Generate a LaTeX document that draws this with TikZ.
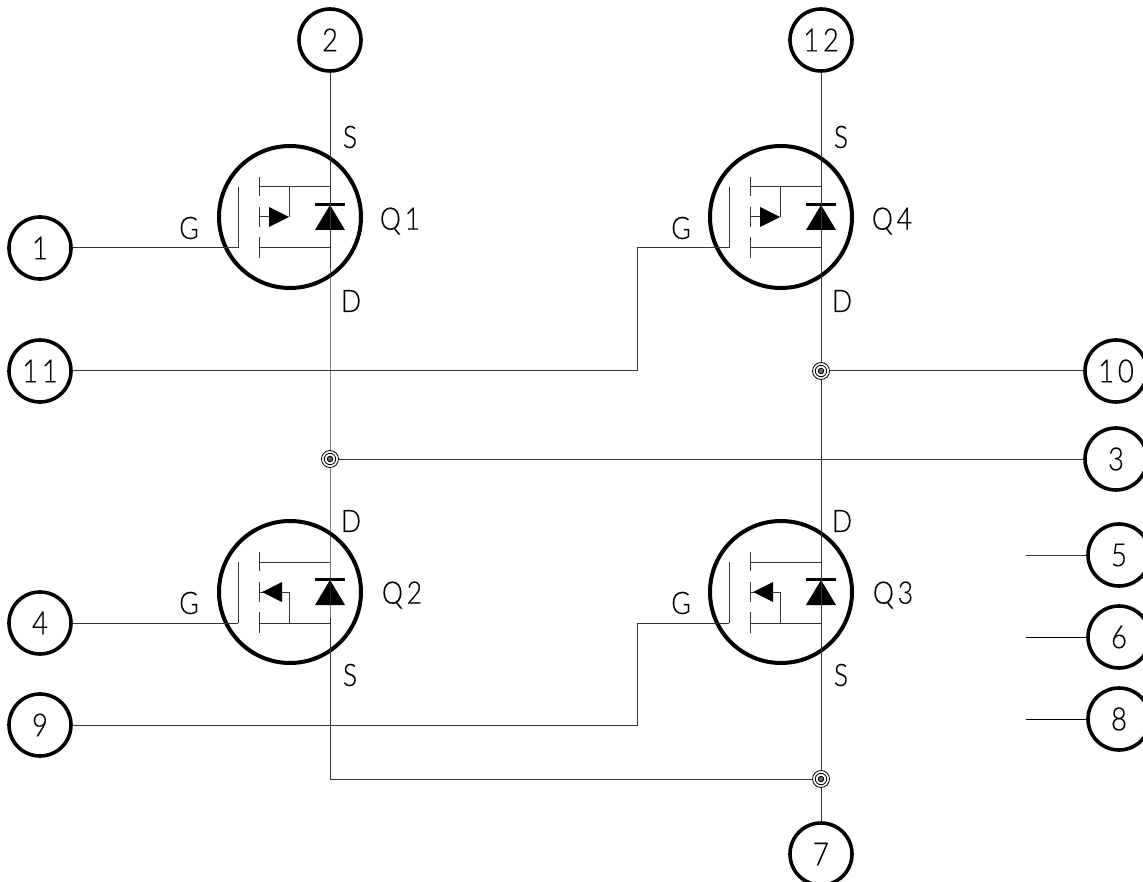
\documentclass[tikz,border=0pt]{standalone}
\usepackage{fontspec}
\setmainfont{Lato Light}[LetterSpace=12,FakeStretch=0.86,FakeBold=0.25]
\tikzset{
  x=1pt,y=-1pt,
  wire/.style={line width=1pt,black!80!white},
  thin wire/.style={line width=1pt,black},
  pinc/.style={circle,draw=black,line width=3.6pt,minimum size=62pt,inner sep=0pt,font=\fontsize{32}{32}\selectfont,text=black},
  bigring/.style={circle,draw=black,line width=4pt,minimum size=142pt,inner sep=0pt},
  lbl/.style={font=\fontsize{31}{31}\selectfont,text=black,inner sep=0pt},
  junc/.pic={
    \draw[line width=.8pt,fill=white] (0,0) circle (8.5);
    \draw[line width=.8pt] (0,0) circle (5.7);
    \draw[line width=.8pt,fill=black!60] (0,0) circle (2.8);
  },
}
% #1 name, #2 dx, #3 dy
\newcommand{\fetup}[3]{%
\begin{scope}[shift={(#2,#3)}]
  \node[bigring] (#1) at (290,217) {};
  \coordinate (#1g) at (238,248);
  \draw[wire] (238,187) -- (#1g);
  \draw[wire] (259,177) -- (259,196) (259,207) -- (259,227) (259,237) -- (259,258);
  \draw[wire] (259,187) -- (330,187) (259,248) -- (330,248);
  \draw[wire] (259,217) -- (270,217);
  \draw[wire] (289,187) -- (289,217);
  \fill[black] (269,207) -- (289,217) -- (269,227) -- cycle;
  \fill[black] (315,203) rectangle (345,206);
  \fill[black] (330,205) -- (345,230) -- (315,230) -- cycle;
\end{scope}}
\newcommand{\fetdown}[3]{%
\begin{scope}[shift={(#2,#3)}]
  \node[bigring] (#1) at (290,217) {};
  \coordinate (#1g) at (238,248);
  \draw[wire] (238,187) -- (#1g);
  \draw[wire] (259,177) -- (259,196) (259,207) -- (259,227) (259,237) -- (259,258);
  \draw[wire] (259,187) -- (330,187) (259,248) -- (330,248);
  \draw[wire] (259,217) -- (265,217);
  \draw[wire] (280,217) -- (289,217) -- (289,248);
  \fill[black] (262,217) -- (282,207) -- (282,227) -- cycle;
  \fill[black] (315,203) rectangle (345,206);
  \fill[black] (330,205) -- (345,230) -- (315,230) -- cycle;
\end{scope}}
\begin{document}
\begin{tikzpicture}
\path[use as bounding box,fill=white] (0,0) rectangle (1143,882);
\clip (0,0) rectangle (1143,882);
% transistors
\fetup{qa}{0}{0}
\fetup{qd}{491}{0}
\fetdown{qb}{0}{375}
\fetdown{qc}{491}{375}
% pins
\node[pinc] (p2) at (330,40) {2};
\node[pinc] (p12) at (821,40) {12};
\node[pinc] (p1) at (40,248) {1};
\node[pinc] (p11) at (40,371) {11};
\node[pinc] (p4) at (40,623) {4};
\node[pinc] (p9) at (40,725) {9};
\node[pinc] (p10) at (1116,371) {10};
\node[pinc] (p3) at (1116,459) {3};
\node[pinc] (p5) at (1119,555) {5};
\node[pinc] (p6) at (1119,637) {6};
\node[pinc] (p8) at (1119,719) {8};
\node[pinc] (p7) at (821,854) {7};
% junction points
\coordinate (ja) at (330,459);
\coordinate (jb) at (821,371);
\coordinate (jc) at (821,779);
\coordinate (bl) at (330,779);
\coordinate (fa) at (1026,555);
\coordinate (fb) at (1026,637);
\coordinate (fc) at (1026,719);
\coordinate (ka) at (637,371);
\coordinate (kb) at (637,248);
\coordinate (kc) at (637,725);
\coordinate (kd) at (637,623);
% connectors
\draw[wire] (p2) -- (ja) -- (bl) -- (jc);
\draw[wire] (p12) -- (p7);
\draw[wire] (p1) -- (qag);
\draw[wire] (p4) -- (qbg);
\draw[wire] (p11) -- (ka) -- (kb) -- (qdg);
\draw[wire] (p9) -- (kc) -- (kd) -- (qcg);
\draw[wire] (jb) -- (p10);
\draw[wire] (ja) -- (p3);
\draw[wire] (fa) -- (p5);
\draw[thin wire] (fb) -- (p6);
\draw[thin wire] (fc) -- (p8);
\pic at (ja) {junc};
\pic at (jb) {junc};
\pic at (jc) {junc};
% labels
\node[lbl] (s1) at (350,137) {S};
\node[lbl] (d1) at (351,301) {D};
\node[lbl] (g1) at (189,228) {G};
\node[lbl] (n1) at (400,221) {Q1};
\node[lbl] (s4) at (841,137) {S};
\node[lbl] (d4) at (842,301) {D};
\node[lbl] (g4) at (681,228) {G};
\node[lbl] (n4) at (892,221) {Q4};
\node[lbl] (d2) at (351,521) {D};
\node[lbl] (s2) at (350,675) {S};
\node[lbl] (g2) at (189,603) {G};
\node[lbl] (n2) at (402,595) {Q2};
\node[lbl] (d3) at (842,521) {D};
\node[lbl] (s3) at (841,675) {S};
\node[lbl] (g3) at (681,603) {G};
\node[lbl] (n3) at (893,595) {Q3};
\end{tikzpicture}
\end{document}
